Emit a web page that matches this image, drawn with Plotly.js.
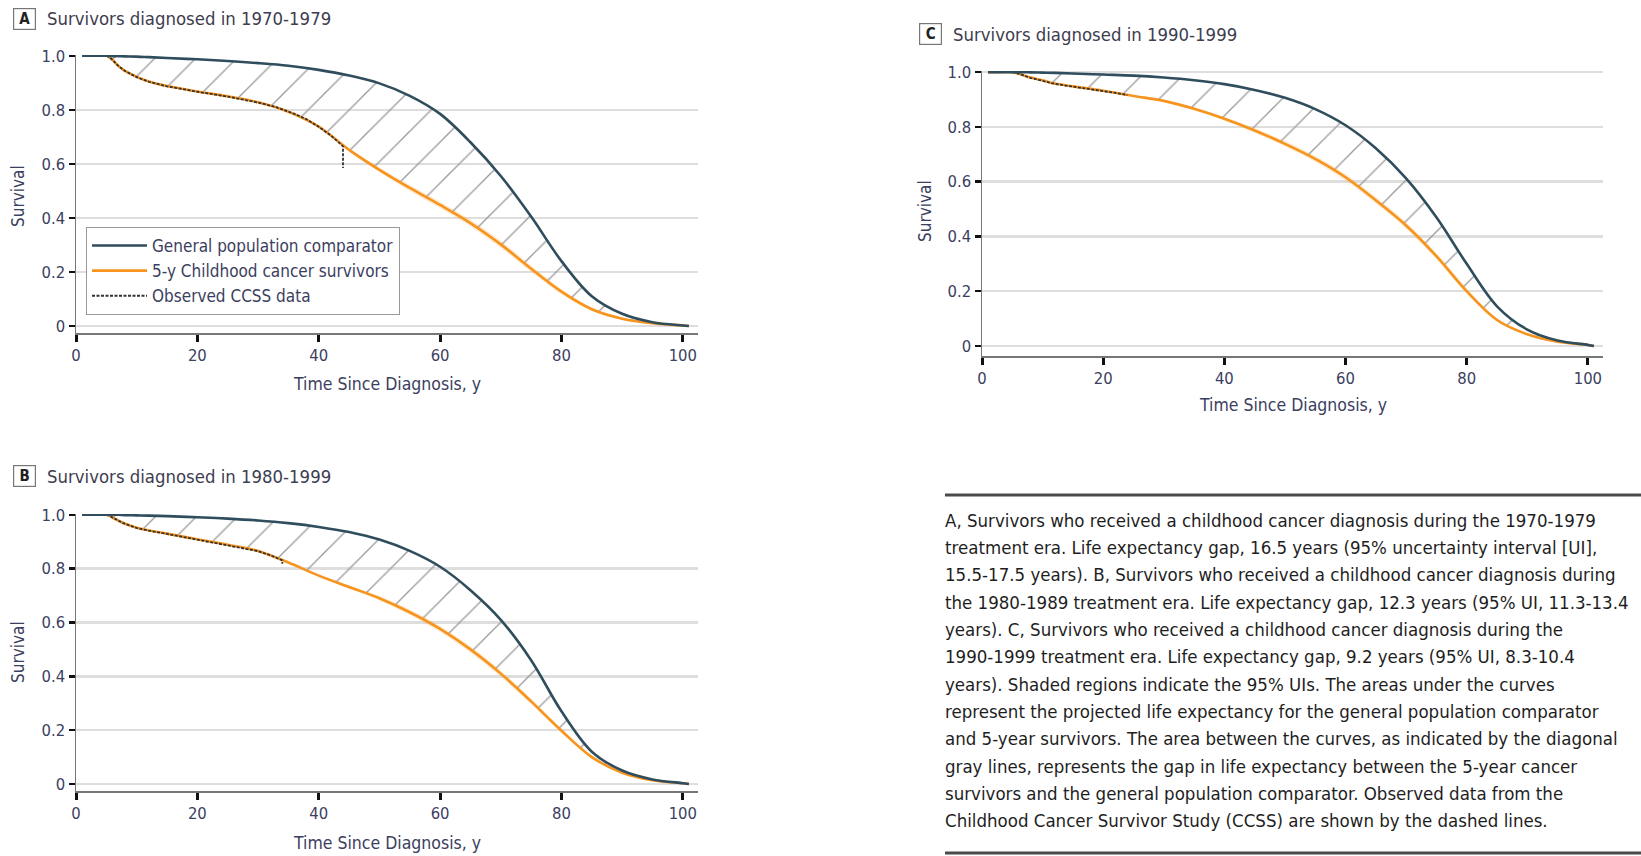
<!DOCTYPE html>
<html>
<head>
<meta charset="utf-8">
<script src="https://cdn.plot.ly/plotly-3.0.1.min.js"></script>
<style>
html,body{margin:0;padding:0;background:#fff;}
#chart{width:1641px;height:856px;}
</style>
</head>
<body>
<div id="chart"></div>
<script>
// ---------- DATA ----------
const years = [1, 3, 5, 6, 7, 8, 10, 12, 15, 20, 25, 30, 35, 40, 45, 50, 55, 60, 65, 70, 75, 80, 85, 90, 95, 100, 101];

// Panel A (1970-1979)
const generalA   = [1, 1, 1, 0.999, 0.999, 0.998, 0.997, 0.995, 0.992, 0.987, 0.981, 0.973, 0.963, 0.948, 0.927, 0.898, 0.852, 0.785, 0.68, 0.555, 0.405, 0.24, 0.11, 0.045, 0.014, 0.002, 0];
const survivorsA = [1, 1, 1, 0.985, 0.962, 0.945, 0.922, 0.905, 0.888, 0.868, 0.85, 0.828, 0.793, 0.738, 0.652, 0.578, 0.511, 0.448, 0.381, 0.302, 0.212, 0.127, 0.062, 0.027, 0.01, 0.002, 0];
const ciHalfA    = [0, 0, 0, 0, 0, 0, 0, 0, 0, 0, 0, 0, 0, 0, 0.006, 0.009, 0.011, 0.012, 0.013, 0.013, 0.012, 0.01, 0.007, 0.004, 0.002, 0.001, 0];
const obsYearsA  = [5, 5.5, 6, 7, 8, 10, 12, 15, 20, 25, 30, 33, 36, 38, 40, 42, 43, 44, 44];
const obsA       = [1, 0.995, 0.985, 0.962, 0.945, 0.921, 0.904, 0.887, 0.867, 0.849, 0.827, 0.81, 0.785, 0.765, 0.737, 0.705, 0.685, 0.665, 0.585];

// Panel B (1980-1989)
const generalB   = [1, 1, 1, 1, 1, 0.999, 0.998, 0.997, 0.995, 0.991, 0.986, 0.979, 0.969, 0.955, 0.936, 0.908, 0.866, 0.807, 0.72, 0.61, 0.46, 0.27, 0.12, 0.05, 0.017, 0.003, 0];
const survivorsB = [1, 1, 1, 0.99, 0.978, 0.968, 0.952, 0.942, 0.93, 0.909, 0.889, 0.866, 0.823, 0.774, 0.732, 0.69, 0.638, 0.576, 0.5, 0.41, 0.307, 0.198, 0.1, 0.042, 0.014, 0.003, 0];
const ciHalfB    = [0, 0, 0, 0, 0, 0, 0, 0, 0, 0, 0, 0, 0, 0.004, 0.006, 0.008, 0.01, 0.011, 0.012, 0.012, 0.011, 0.009, 0.006, 0.004, 0.002, 0.001, 0];
const obsYearsB  = [5, 5.5, 6, 7, 8, 10, 12, 15, 20, 25, 30, 32, 34, 34];
const obsB       = [1, 0.997, 0.99, 0.978, 0.967, 0.951, 0.941, 0.929, 0.908, 0.888, 0.865, 0.85, 0.831, 0.818];

// Panel C (1990-1999)
const generalC   = [1, 1, 1, 1, 1, 0.999, 0.998, 0.997, 0.995, 0.991, 0.987, 0.98, 0.97, 0.956, 0.935, 0.906, 0.865, 0.806, 0.722, 0.612, 0.47, 0.3, 0.145, 0.06, 0.02, 0.004, 0];
const survivorsC = [1, 1, 1, 0.995, 0.987, 0.98, 0.97, 0.958, 0.948, 0.932, 0.913, 0.895, 0.866, 0.83, 0.787, 0.738, 0.683, 0.616, 0.532, 0.44, 0.328, 0.2, 0.095, 0.043, 0.016, 0.004, 0];
const ciHalfC    = [0, 0, 0, 0, 0, 0, 0, 0, 0, 0, 0, 0.003, 0.005, 0.007, 0.008, 0.01, 0.011, 0.012, 0.012, 0.012, 0.011, 0.009, 0.006, 0.004, 0.002, 0.001, 0];
const obsYearsC  = [5, 5.5, 6, 7, 8, 10, 12, 15, 18, 20, 22, 24];
const obsC       = [1, 0.998, 0.994, 0.987, 0.979, 0.968, 0.957, 0.947, 0.938, 0.932, 0.924, 0.916];

const panelLetters = ['A', 'B', 'C'];
const panelTitles = ['Survivors diagnosed in 1970-1979', 'Survivors diagnosed in 1980-1999', 'Survivors diagnosed in 1990-1999'];
const xTickVals = [0, 20, 40, 60, 80, 100];
const xTickText = ['0', '20', '40', '60', '80', '100'];
const yTickVals = [0, 0.2, 0.4, 0.6, 0.8, 1.0];
const yTickText = ['0', '0.2', '0.4', '0.6', '0.8', '1.0'];
const legendNames = ['General population comparator', '5-y Childhood cancer survivors', 'Observed CCSS data'];
const xTitle = 'Time Since Diagnosis, y';
const yTitle = 'Survival';
const captionLines = [
  'A, Survivors who received a childhood cancer diagnosis during the 1970-1979',
  'treatment era. Life expectancy gap, 16.5 years (95% uncertainty interval [UI],',
  '15.5-17.5 years). B, Survivors who received a childhood cancer diagnosis during',
  'the 1980-1989 treatment era. Life expectancy gap, 12.3 years (95% UI, 11.3-13.4',
  'years). C, Survivors who received a childhood cancer diagnosis during the',
  '1990-1999 treatment era. Life expectancy gap, 9.2 years (95% UI, 8.3-10.4',
  'years). Shaded regions indicate the 95% UIs. The areas under the curves',
  'represent the projected life expectancy for the general population comparator',
  'and 5-year survivors. The area between the curves, as indicated by the diagonal',
  'gray lines, represents the gap in life expectancy between the 5-year cancer',
  'survivors and the general population comparator. Observed data from the',
  'Childhood Cancer Survivor Study (CCSS) are shown by the dashed lines.'
];

// ---------- STYLE ----------
const W = 1641, H = 856;
const FONT = "'DejaVu Sans Condensed', 'Liberation Sans Narrow', 'DejaVu Sans', sans-serif";
const DARK = '#2f4d5c';
const ORANGE = '#f7941d';
const OBS = '#333333';
const LABEL = '#3b4060';
const px = v => v / W;
const py = v => 1 - v / H;
const SMOOTH = 1.0;

const panels = [
  {gen: generalA, surv: survivorsA, ci: ciHalfA, ox: obsYearsA, oy: obsA, xa: 'x', ya: 'y',
   dom: {x0: 76, x1: 698, top: 55, bot: 333}, yr: [-0.026, 1.003], legend: true},
  {gen: generalB, surv: survivorsB, ci: ciHalfB, ox: obsYearsB, oy: obsB, xa: 'x2', ya: 'y2',
   dom: {x0: 76, x1: 698, top: 514, bot: 791}, yr: [-0.026, 1.003], legend: false},
  {gen: generalC, surv: survivorsC, ci: ciHalfC, ox: obsYearsC, oy: obsC, xa: 'x3', ya: 'y3',
   dom: {x0: 982, x1: 1603, top: 71, bot: 356}, yr: [-0.0365, 1.004], legend: false}
];

const traces = [];
panels.forEach(p => {
  const common = {xaxis: p.xa, yaxis: p.ya, hoverinfo: 'skip', type: 'scatter', mode: 'lines'};
  const sp = {shape: 'spline', smoothing: SMOOTH};
  // hatch base (survivors)
  traces.push(Object.assign({}, common, {x: years, y: p.surv, line: Object.assign({width: 0}, sp), showlegend: false}));
  // hatch (general, fill to survivors)
  traces.push(Object.assign({}, common, {x: years, y: p.gen, line: Object.assign({width: 0}, sp),
    fill: 'tonexty', fillcolor: 'rgba(0,0,0,0)',
    fillpattern: {shape: '/', size: 29, solidity: 0.045, fgcolor: '#999999', bgcolor: 'rgba(0,0,0,0)', fillmode: 'replace'},
    showlegend: false}));
  // CI band
  const lo = p.surv.map((v, i) => v - p.ci[i]);
  const hi = p.surv.map((v, i) => v + p.ci[i]);
  traces.push(Object.assign({}, common, {x: years, y: lo, line: Object.assign({width: 0}, sp), showlegend: false}));
  traces.push(Object.assign({}, common, {x: years, y: hi, line: Object.assign({width: 0}, sp),
    fill: 'tonexty', fillcolor: 'rgba(247,148,29,0.2)', showlegend: false}));
  // survivors line
  traces.push(Object.assign({}, common, {x: years, y: p.surv, name: legendNames[1], legendrank: 2,
    line: Object.assign({color: ORANGE, width: 2.6}, sp), showlegend: p.legend}));
  // observed
  traces.push(Object.assign({}, common, {x: p.ox, y: p.oy, name: legendNames[2], legendrank: 3,
    line: {color: OBS, width: 1.8, dash: '3px,1.5px'}, showlegend: p.legend}));
  // general line
  traces.push(Object.assign({}, common, {x: years, y: p.gen, name: legendNames[0], legendrank: 1,
    line: Object.assign({color: DARK, width: 2.6}, sp), showlegend: p.legend}));
});

function xAxis(p) {
  return {
    domain: [px(p.dom.x0), px(p.dom.x1)], anchor: p.ya,
    range: [0, 102.5], tickvals: xTickVals, ticktext: xTickText,
    showgrid: false, zeroline: false, showline: true, linecolor: '#777', linewidth: 1.5,
    ticks: 'outside', ticklen: 7, tickwidth: 3, tickcolor: '#111',
    tickfont: {family: FONT, size: 16.5, color: LABEL}, fixedrange: true
  };
}
function yAxis(p) {
  return {
    domain: [py(p.dom.bot), py(p.dom.top)], anchor: p.xa,
    range: p.yr, tickvals: yTickVals, ticktext: yTickText,
    showgrid: true, gridcolor: '#dedede', gridwidth: 2.5, zeroline: false,
    showline: true, linecolor: '#777', linewidth: 1.5,
    ticks: 'outside', ticklen: 6, tickwidth: 2.5, tickcolor: '#111',
    tickfont: {family: FONT, size: 16.5, color: LABEL}, fixedrange: true
  };
}

const layout = {
  width: W, height: H,
  margin: {l: 0, r: 0, t: 0, b: 0},
  paper_bgcolor: '#fff', plot_bgcolor: 'rgba(0,0,0,0)',
  showlegend: true,
  legend: {
    x: px(86), y: py(227), xanchor: 'left', yanchor: 'top', traceorder: 'normal',
    bgcolor: '#fff', bordercolor: '#999', borderwidth: 1,
    font: {family: FONT, size: 17, color: LABEL},
    itemwidth: 55, tracegroupgap: 0
  },
  xaxis: xAxis(panels[0]), yaxis: yAxis(panels[0]),
  xaxis2: xAxis(panels[1]), yaxis2: yAxis(panels[1]),
  xaxis3: xAxis(panels[2]), yaxis3: yAxis(panels[2]),
  annotations: [],
  shapes: [
    {type: 'line', xref: 'paper', yref: 'paper', x0: px(945), x1: px(1641), y0: py(495), y1: py(495), line: {color: '#4a4a4a', width: 3}},
    {type: 'line', xref: 'paper', yref: 'paper', x0: px(945), x1: px(1641), y0: py(853), y1: py(853), line: {color: '#4a4a4a', width: 3}}
  ]
};

// panel titles
const titlePos = [{bx: 24, by: 19, tx: 45}, {bx: 24, by: 476, tx: 45}, {bx: 930, by: 34, tx: 951}];
panelLetters.forEach((L, i) => {
  const t = titlePos[i];
  layout.annotations.push({xref: 'paper', yref: 'paper', x: px(t.bx), y: py(t.by), xanchor: 'center', yanchor: 'middle',
    text: '<b>' + L + '</b>', showarrow: false, width: 19, height: 18, bordercolor: '#777', borderwidth: 1.2, borderpad: 1,
    bgcolor: '#fff', font: {family: FONT, size: 15, color: '#222'}});
  layout.annotations.push({xref: 'paper', yref: 'paper', x: px(t.tx), y: py(t.by), xanchor: 'left', yanchor: 'middle',
    text: panelTitles[i], showarrow: false, font: {family: FONT, size: 18.4, color: '#3d3d4f'}});
});

// axis titles
const axisTitlePos = [
  {xt: {x: 387, y: 384}, yt: {x: 18, y: 196}},
  {xt: {x: 387, y: 843}, yt: {x: 18, y: 652}},
  {xt: {x: 1293, y: 405}, yt: {x: 925, y: 211}}
];
axisTitlePos.forEach(a => {
  layout.annotations.push({xref: 'paper', yref: 'paper', x: px(a.xt.x), y: py(a.xt.y), xanchor: 'center', yanchor: 'middle',
    text: xTitle, showarrow: false, font: {family: FONT, size: 17.5, color: LABEL}});
  layout.annotations.push({xref: 'paper', yref: 'paper', x: px(a.yt.x), y: py(a.yt.y), xanchor: 'center', yanchor: 'middle',
    text: yTitle, textangle: -90, showarrow: false, font: {family: FONT, size: 17, color: LABEL}});
});

// caption, one line per annotation
captionLines.forEach((line, i) => {
  layout.annotations.push({xref: 'paper', yref: 'paper', x: px(943), y: py(520 + i * 27.36), xanchor: 'left', yanchor: 'middle', align: 'left',
    text: line, showarrow: false, font: {family: FONT, size: 18.5, color: '#1e1e1e'}});
});

Plotly.newPlot('chart', traces, layout, {displayModeBar: false, staticPlot: true});
</script>
</body>
</html>
